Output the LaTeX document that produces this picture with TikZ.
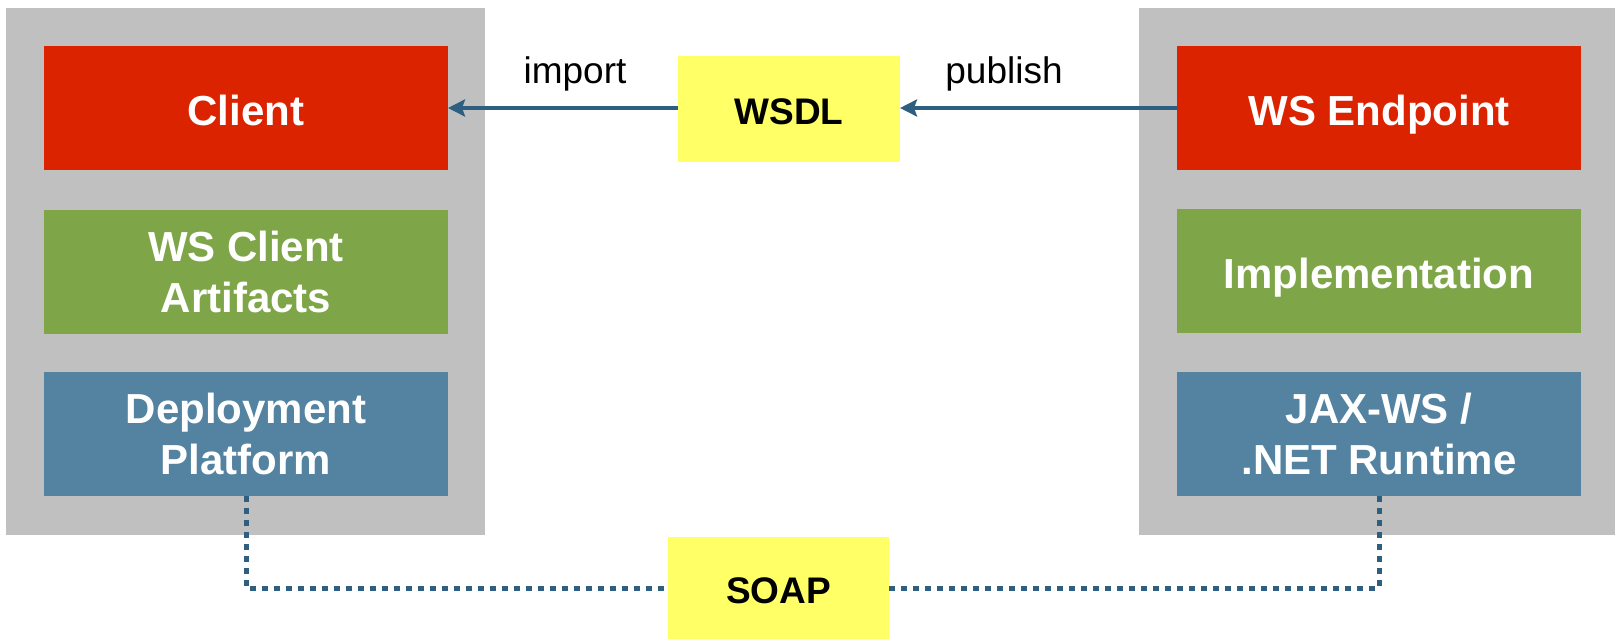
\documentclass[tikz,border=0pt]{standalone}
\usepackage{fontspec}
\setmainfont{Liberation Sans}
\usetikzlibrary{arrows.meta}

\definecolor{groupgray}{HTML}{C0C0C0}
\definecolor{layerred}{HTML}{DC2300}
\definecolor{layergreen}{HTML}{7EA648}
\definecolor{layerblue}{HTML}{5383A1}
\definecolor{docyellow}{HTML}{FFFF66}
\definecolor{linkblue}{HTML}{2E5E80}

\tikzset{
  group/.style={fill=groupgray, draw=none, inner sep=0pt, outer sep=0pt},
  layer/.style={draw=none, inner sep=0pt, outer sep=0pt,
    minimum width=404pt, minimum height=124pt, align=center,
    text=white, font=\fontsize{42}{51.5}\selectfont\bfseries},
  oneline/.style={text height=34pt, text depth=0pt},
  redlayer/.style={layer, fill=layerred},
  greenlayer/.style={layer, fill=layergreen},
  bluelayer/.style={layer, fill=layerblue},
  doc/.style={fill=docyellow, draw=none, inner sep=0pt, outer sep=0pt,
    text height=30pt, text depth=0pt,
    text=black, font=\fontsize{37}{44}\selectfont\bfseries},
  flowlabel/.style={anchor=base, inner sep=0pt, font=\fontsize{37}{44}\selectfont},
  importarrow/.style={draw=linkblue, line width=4pt,
    -{Stealth[length=17pt, width=17pt, inset=3pt]}},
  soapline/.style={draw=linkblue, line width=5pt, dash pattern=on 6pt off 6pt}
}

\begin{document}
\begin{tikzpicture}[x=1pt, y=-1pt]
  \useasboundingbox (0,0) rectangle (1615,640);

  % grey containers for the two sides
  \node[group, minimum width=479pt, minimum height=527pt] (lgroup) at (245.5,271.5) {};
  \node[group, minimum width=476pt, minimum height=527pt] (rgroup) at (1377,271.5) {};

  % client stack
  \node[redlayer, oneline] (client)    at (246,108) {Client};
  \node[greenlayer]        (artifacts) at (246,272) {WS Client\\Artifacts};
  \node[bluelayer]         (deploy)    at (246,434) {Deployment\\Platform};

  % service stack
  \node[redlayer, oneline]   (endpoint) at (1379,108) {WS Endpoint};
  \node[greenlayer, oneline] (impl)     at (1379,271) {Implementation};
  \node[bluelayer]           (runtime)  at (1379,434) {JAX-WS /\\.NET Runtime};

  % contract and protocol
  \node[doc, minimum width=222pt, minimum height=106pt] (wsdl) at (789,109) {WSDL};
  \node[doc, minimum width=221pt, minimum height=102pt] (soap) at (778.5,588) {SOAP};

  % WSDL flow
  \draw[importarrow] (endpoint.west |- 0,108) -- (wsdl.east |- 0,108);
  \draw[importarrow] (wsdl.west |- 0,108) -- (client.east |- 0,108);
  \node[flowlabel] (importlbl)  at (575,83)  {import};
  \node[flowlabel] (publishlbl) at (1004,83) {publish};

  % SOAP messaging
  \draw[soapline] (deploy.south) |- (soap.west);
  \draw[soapline] (soap.east) -| (runtime.south);
\end{tikzpicture}
\end{document}
